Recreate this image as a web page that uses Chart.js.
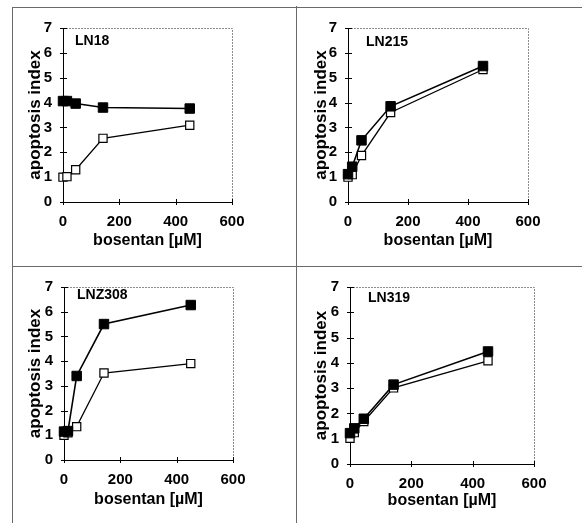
<!DOCTYPE html>
<html lang="en">
<head>
<meta charset="UTF-8">
<title>Bosentan and apoptosis index</title>
<style>
  body { margin: 0; background: #fff; }
  #page { position: relative; width: 582px; height: 523px; overflow: hidden; background: #fff; }
  .panel { position: absolute; }
  .rule { position: absolute; background: #6a6a6a; }
</style>
<script src="https://cdn.jsdelivr.net/npm/chart.js"></script>
</head>
<body>
<div id="page">
  <div class="rule" style="left:12px;top:7px;width:570px;height:1px"></div>
  <div class="rule" style="left:12px;top:7px;width:1px;height:516px"></div>
  <div class="rule" style="left:12px;top:266px;width:570px;height:1px"></div>
  <div class="rule" style="left:296px;top:6px;width:1px;height:517px"></div>
  <canvas id="c0" class="panel"></canvas>
  <canvas id="c1" class="panel"></canvas>
  <canvas id="c2" class="panel"></canvas>
  <canvas id="c3" class="panel"></canvas>
</div>
<script>
// bosentan concentrations (µM) and tick labels
const bosentan = [0, 14, 45, 142, 450];
const xTicks = [0, 200, 400, 600];
const yTicks = [0, 1, 2, 3, 4, 5, 6, 7];
const cellLines = ['LN18', 'LN215', 'LNZ308', 'LN319'];

// apoptosis index, filled squares / open squares
const ln18Filled = [4.06, 4.06, 3.96, 3.80, 3.76];
const ln18Open = [1.00, 1.02, 1.30, 2.56, 3.09];
const ln215Filled = [1.12, 1.42, 2.48, 3.85, 5.47];
const ln215Open = [1.00, 1.10, 1.87, 3.60, 5.33];
const lnz308Filled = [1.15, 1.17, 3.40, 5.50, 6.27];
const lnz308Open = [1.00, 1.10, 1.35, 3.52, 3.90];
const ln319Filled = [1.22, 1.41, 1.79, 3.14, 4.45];
const ln319Open = [1.02, 1.24, 1.68, 3.01, 4.08];

const FONT = 'Arial, "Liberation Sans", sans-serif';
Chart.defaults.font.family = FONT;
Chart.defaults.color = '#000';

// where each panel sits on the page (canvas box, plot area, title centres, name offset)
const panels = [
  { id: 'c0', box: [13, 8, 283, 258], area: [63, 26, 232, 202], yTitleX: 35, xTitleY: 241, name: [12, 17], filled: ln18Filled, open: ln18Open },
  { id: 'c1', box: [297, 8, 285, 258], area: [348, 25, 528, 202], yTitleX: 321, xTitleY: 241, name: [18, 18], filled: ln215Filled, open: ln215Open },
  { id: 'c2', box: [13, 267, 283, 256], area: [64, 285, 233, 460], yTitleX: 35.5, xTitleY: 500, name: [13, 12], filled: lnz308Filled, open: lnz308Open },
  { id: 'c3', box: [297, 267, 285, 256], area: [350, 285, 534, 464], yTitleX: 321.5, xTitleY: 501, name: [18, 15], filled: ln319Filled, open: ln319Open }
];

// dotted top/right frame, crossing tick marks and the cell line name
const frame = {
  id: 'frame',
  beforeDatasetsDraw(chart, args, opts) {
    const { ctx, chartArea: a, scales: { x, y } } = chart;
    ctx.save();
    ctx.strokeStyle = '#8c8c8c';
    ctx.lineWidth = 1;
    ctx.setLineDash([2, 1]);
    ctx.beginPath();
    ctx.moveTo(a.left, a.top + 0.5);
    ctx.lineTo(a.right + 0.5, a.top + 0.5);
    ctx.lineTo(a.right + 0.5, a.bottom);
    ctx.stroke();
    ctx.setLineDash([]);
    ctx.strokeStyle = '#000';
    ctx.beginPath();
    y.ticks.forEach(t => {
      const py = Math.round(y.getPixelForValue(t.value)) + 0.5;
      ctx.moveTo(a.left - 3, py);
      ctx.lineTo(a.left + 4, py);
    });
    x.ticks.forEach(t => {
      const px = Math.round(x.getPixelForValue(t.value)) + 0.5;
      ctx.moveTo(px, a.bottom - 3);
      ctx.lineTo(px, a.bottom + 3);
    });
    ctx.stroke();
    ctx.font = 'bold 14px ' + FONT;
    ctx.fillStyle = '#000';
    ctx.textBaseline = 'alphabetic';
    ctx.fillText(opts.name, a.left + opts.dx, a.top + opts.dy);
    ctx.restore();
  }
};

function pairs(values) {
  return bosentan.map((c, i) => ({ x: c, y: values[i] }));
}

panels.forEach((p, i) => {
  const el = document.getElementById(p.id);
  const [cx, cy, cw, ch] = p.box;
  const [l, t, r, b] = p.area;
  el.width = cw;
  el.height = ch;
  el.style.left = cx + 'px';
  el.style.top = cy + 'px';

  const yTitleHalf = 17 * 1.2 / 2;
  const xTitleHalf = 16 * 1.2 / 2;
  const yLeft = p.yTitleX - yTitleHalf;
  const xBottom = p.xTitleY + xTitleHalf;

  new Chart(el, {
    type: 'line',
    data: {
      datasets: [
        {
          data: pairs(p.filled),
          borderColor: '#000',
          borderWidth: 1.6,
          pointStyle: 'rect',
          pointRadius: 6.7,
          pointBackgroundColor: '#000',
          pointBorderColor: '#000',
          pointBorderWidth: 1,
          clip: false
        },
        {
          data: pairs(p.open),
          borderColor: '#000',
          borderWidth: 1.3,
          pointStyle: 'rect',
          pointRadius: 5.8,
          pointBackgroundColor: '#fff',
          pointBorderColor: '#000',
          pointBorderWidth: 1.2,
          clip: false
        }
      ]
    },
    options: {
      responsive: false,
      animation: false,
      events: [],
      layout: {
        padding: { left: yLeft - cx, top: t - cy, right: cx + cw - r, bottom: cy + ch - xBottom }
      },
      plugins: {
        legend: { display: false },
        tooltip: { enabled: false },
        frame: { name: cellLines[i], dx: p.name[0], dy: p.name[1] }
      },
      scales: {
        x: {
          type: 'linear',
          min: 0,
          max: 600,
          afterBuildTicks: s => { s.ticks = xTicks.map(v => ({ value: v })); },
          afterFit: s => { s.height = xBottom - b; },
          grid: { display: false, drawTicks: false },
          border: { color: '#000', width: 1 },
          ticks: { padding: 11, color: '#000', maxRotation: 0, font: { size: 15, weight: 'bold' } },
          title: { display: true, text: 'bosentan [µM]', color: '#000', padding: 0, font: { size: 16, weight: 'bold' } }
        },
        y: {
          type: 'linear',
          min: 0,
          max: 7,
          afterBuildTicks: s => { s.ticks = yTicks.map(v => ({ value: v })); },
          afterFit: s => { s.width = l - yLeft; },
          grid: { display: false, drawTicks: false },
          border: { color: '#000', width: 1 },
          ticks: { padding: 11, color: '#000', font: { size: 15, weight: 'bold' } },
          title: { display: true, text: 'apoptosis index', color: '#000', padding: 0, font: { size: 17, weight: 'bold' } }
        }
      }
    },
    plugins: [frame]
  });
});
</script>
</body>
</html>
